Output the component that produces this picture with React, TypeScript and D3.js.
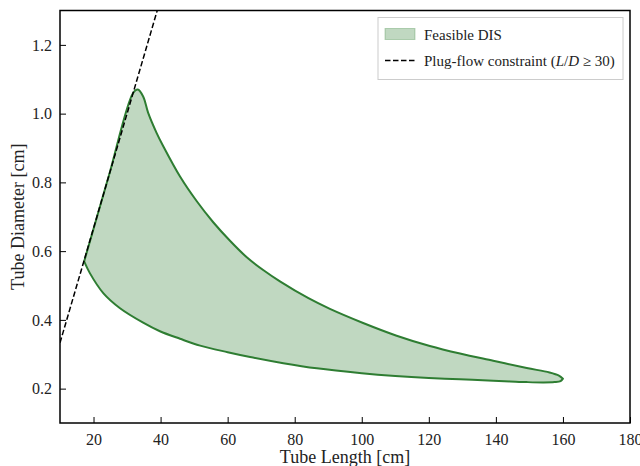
import {useEffect, useRef} from 'react';
import * as d3 from 'd3';

// Upper boundary of the feasible DIS (tube length L [cm] -> diameter D [cm])
const upperL = [17.2, 24.5, 31.8, 33.2, 34.8, 36.3, 38.8, 40.8, 45.8, 50.8, 55.7, 60.7, 65.7, 70.6, 75.6, 84.1, 90.5, 100.4, 110.4, 120.3, 129.3, 139.2, 149.2, 156.0, 158.8, 160.0];
const upperD = [0.570, 0.817, 1.060, 1.070, 1.050, 1.002, 0.944, 0.905, 0.817, 0.745, 0.684, 0.630, 0.582, 0.545, 0.512, 0.463, 0.432, 0.391, 0.354, 0.324, 0.302, 0.281, 0.260, 0.247, 0.238, 0.229];

// Lower boundary of the feasible DIS
const lowerL = [17.2, 18.9, 22.9, 27.9, 34.8, 39.8, 45.8, 51.8, 60.0, 66.7, 76.6, 86.6, 100.0, 110.0, 120.0, 129.3, 139.2, 144.2, 149.2, 154.1, 157.5, 159.3, 160.0];
const lowerD = [0.570, 0.536, 0.478, 0.434, 0.392, 0.367, 0.345, 0.325, 0.306, 0.292, 0.274, 0.259, 0.245, 0.237, 0.231, 0.227, 0.223, 0.221, 0.219, 0.218, 0.219, 0.222, 0.229];

// Plug-flow constraint line L/D = 30 (end points)
const plugL = [10, 39];
const plugD = [0.3333, 1.3];

const xTicks = [20, 40, 60, 80, 100, 120, 140, 160, 180];
const yTicks = [0.2, 0.4, 0.6, 0.8, 1.0, 1.2];

const width = 640;
const height = 466;

const App = () => {
  const svgRef = useRef<SVGSVGElement>(null);

  useEffect(() => {
    const margin = {top: 10.5, right: 10, bottom: 43, left: 60};
    const innerWidth = width - margin.left - margin.right;
    const innerHeight = height - margin.top - margin.bottom;
    const font = '"Liberation Serif", "DejaVu Serif", serif';
    const edge = '#2e7d32';

    const svg = d3.select(svgRef.current);
    svg.selectAll('*').remove();

    const xScale = d3.scaleLinear().domain([10, 180]).range([0, innerWidth]);
    const yScale = d3.scaleLinear().domain([0.1, 1.3]).range([innerHeight, 0]);

    svg.append('defs').append('clipPath').attr('id', 'plot-clip')
      .append('rect').attr('width', innerWidth).attr('height', innerHeight);

    const g = svg.append('g').attr('transform', `translate(${margin.left}, ${margin.top})`);
    const plot = g.append('g').attr('clip-path', 'url(#plot-clip)');

    // Feasible region: upper boundary out, lower boundary back
    const upper = upperL.map((l, i) => [l, upperD[i]] as [number, number]);
    const lower = lowerL.map((l, i) => [l, lowerD[i]] as [number, number]).reverse();
    const edgeLine = d3.line<[number, number]>()
      .x(d => xScale(d[0]))
      .y(d => yScale(d[1]))
      .curve(d3.curveCatmullRom.alpha(0.5));

    const regionPath = edgeLine(upper) + (edgeLine(lower) || '').replace(/^M/, 'L') + 'Z';

    plot.append('path')
      .attr('d', regionPath)
      .attr('fill', edge)
      .attr('fill-opacity', 0.3)
      .attr('stroke', edge)
      .attr('stroke-width', 2)
      .attr('stroke-linejoin', 'round');

    // Plug-flow constraint
    const plug = plugL.map((l, i) => [l, plugD[i]] as [number, number]);
    plot.append('path')
      .datum(plug)
      .attr('d', d3.line<[number, number]>().x(d => xScale(d[0])).y(d => yScale(d[1])))
      .attr('fill', 'none')
      .attr('stroke', 'black')
      .attr('stroke-width', 1.5)
      .attr('stroke-dasharray', '5.5, 2.5');

    // Axes (ticks pointing inward)
    const xAxis = g.append('g').attr('transform', `translate(0, ${innerHeight})`);
    xAxis.call(d3.axisBottom(xScale).tickValues(d3.range(15, 180, 5)).tickSize(-3.5).tickFormat(() => ''));
    xAxis.call(d3.axisBottom(xScale).tickValues(xTicks).tickSize(-6).tickPadding(11).tickFormat(d3.format('d')));

    const yAxis = g.append('g');
    yAxis.call(d3.axisLeft(yScale).tickValues(d3.range(0.15, 1.3, 0.05)).tickSize(-3.5).tickFormat(() => ''));
    yAxis.call(d3.axisLeft(yScale).tickValues(yTicks).tickSize(-6).tickPadding(8).tickFormat(d3.format('.1f')));

    g.selectAll('.domain').remove();
    g.selectAll('.tick line').attr('stroke', 'black').attr('stroke-width', 1);
    g.selectAll('.tick text')
      .style('font-family', font)
      .style('font-size', '16px')
      .attr('fill', '#222');

    // Frame
    g.append('rect')
      .attr('width', innerWidth)
      .attr('height', innerHeight)
      .attr('fill', 'none')
      .attr('stroke', 'black')
      .attr('stroke-width', 1.5);

    // Axis labels
    svg.append('text')
      .attr('x', margin.left + innerWidth / 2)
      .attr('y', height - 3)
      .style('text-anchor', 'middle')
      .style('font-family', font)
      .style('font-size', '18px')
      .attr('fill', '#222')
      .text('Tube Length [cm]');

    svg.append('text')
      .attr('transform', `translate(24, ${margin.top + innerHeight / 2}) rotate(-90)`)
      .style('text-anchor', 'middle')
      .style('font-family', font)
      .style('font-size', '18px')
      .attr('fill', '#222')
      .text('Tube Diameter [cm]');

    // Legend
    const legend = g.append('g').attr('transform', `translate(${innerWidth - 252}, 7)`);
    legend.append('rect')
      .attr('width', 245)
      .attr('height', 62)
      .attr('fill', 'white')
      .attr('stroke', '#cccccc')
      .attr('stroke-width', 1);
    legend.append('rect')
      .attr('x', 7)
      .attr('y', 11)
      .attr('width', 30)
      .attr('height', 11)
      .attr('fill', edge)
      .attr('fill-opacity', 0.3)
      .attr('stroke', edge)
      .attr('stroke-opacity', 0.3);
    legend.append('text')
      .attr('x', 46)
      .attr('y', 22)
      .style('font-family', font)
      .style('font-size', '15px')
      .attr('fill', '#222')
      .text('Feasible DIS');
    legend.append('line')
      .attr('x1', 7).attr('x2', 37)
      .attr('y1', 43).attr('y2', 43)
      .attr('stroke', 'black')
      .attr('stroke-width', 1.5)
      .attr('stroke-dasharray', '5.5, 2.5');
    const t = legend.append('text')
      .attr('x', 46)
      .attr('y', 48)
      .style('font-family', font)
      .style('font-size', '15px')
      .attr('fill', '#222');
    t.append('tspan').text('Plug-flow constraint (');
    t.append('tspan').style('font-style', 'italic').text('L');
    t.append('tspan').text('/');
    t.append('tspan').style('font-style', 'italic').text('D');
    t.append('tspan').text(' \u2265 30)');
  }, []);

  return (
    <svg
      ref={svgRef}
      width={width}
      height={height}
      style={{position: 'absolute', left: 0, top: 0, background: 'white'}}
    />
  );
};

export default App;
